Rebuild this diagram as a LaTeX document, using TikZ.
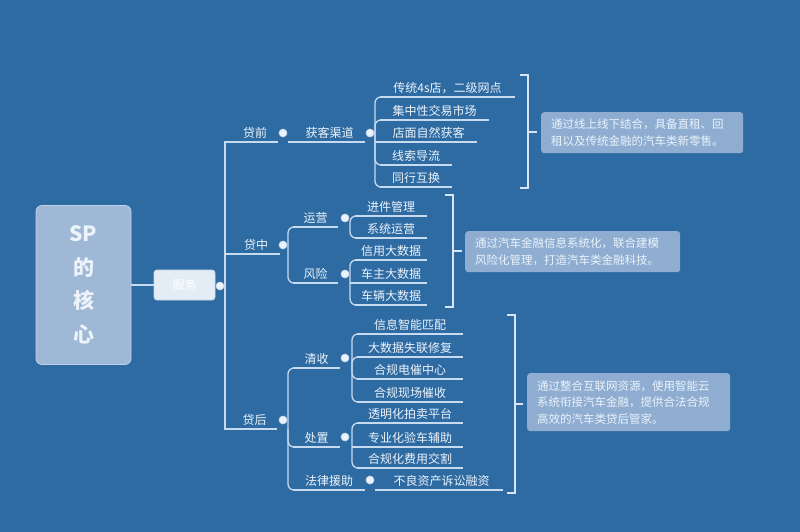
\documentclass[tikz,border=0pt]{standalone}
\usepackage{fontspec}
\newfontfamily\cjk{Noto Sans CJK SC}
\usetikzlibrary{calc}
\definecolor{bgc}{RGB}{46,107,163}
\definecolor{linec}{RGB}{198,218,240}
\definecolor{txtc}{RGB}{236,243,251}
\definecolor{notec}{RGB}{142,173,208}
\definecolor{rootc}{RGB}{158,184,214}
\definecolor{fwc}{RGB}{228,236,246}
\definecolor{brc}{RGB}{214,229,247}
\definecolor{dotc}{RGB}{236,242,250}
\newcommand\mmlabel[5]{%
  \node[lbl, minimum width={(#3-#2)*1pt}] (#1) at ({(#2+#3)/2},#4) {#5};
  \draw[ln] (#1.south west) -- (#1.south east);}
\begin{document}
\begin{tikzpicture}[x=1pt,y=-1pt,
  ln/.style={draw=linec, line width=1.3pt},
  lbl/.style={anchor=south, inner xsep=0pt, inner ysep=3pt, text=txtc,
    font=\cjk\fontsize{12}{12}\selectfont},
  dot/.style={circle, fill=dotc, draw=linec, line width=0.6pt, inner sep=0pt, minimum size=8pt},
  br/.style={draw=brc, line width=2.6pt},
  note/.style={fill=notec, rounded corners=3pt, inner xsep=10pt, inner ysep=0pt, align=left,
    anchor=north west, text=txtc, font=\cjk\fontsize{11.5}{16.5}\selectfont},
  branch/.style={ln, rounded corners=6pt}]
\fill[bgc] (0,0) rectangle (800,532);
\useasboundingbox (0,0) rectangle (800,532);

% root and service box
\node[fill=rootc, draw=linec!80!rootc, line width=0.8pt, rounded corners=6pt,
  minimum width=95pt, minimum height=159pt, inner sep=0pt] (root) at (83.5,285) {};
\node[text=txtc, align=center, font=\cjk\bfseries\fontsize{21}{33.5}\selectfont] (roottxt) at (root.center) {SP\\的\\核\\心};
\node[fill=fwc, draw=linec, line width=0.8pt, rounded corners=3pt, minimum width=61pt,
  minimum height=30pt, inner sep=0pt, text=white, font=\cjk\fontsize{12}{12}\selectfont] (fw) at (184.5,285) {服务};
\draw[ln] (root.east) -- (fw.west);
\node[dot] (fwd) at (220,286) {};
\coordinate (v) at (225,286);
\draw[ln] (fwd.east) -- (v);

% level 1
\mmlabel{Lq}{232}{278}{142}{贷前}
\mmlabel{Lz}{232}{280}{254}{贷中}
\mmlabel{Lh}{232}{277}{429}{贷后}
\draw[ln] (v) |- (Lq.south west);
\draw[ln] (v) |- (Lz.south west);
\draw[ln] (v) |- (Lh.south west);
\node[dot] (dq) at (283,133) {};
\node[dot] (dz) at (283,245) {};
\node[dot] (dh) at (283,420) {};

% level 2
\mmlabel{hk}{294}{365}{142}{获客渠道}
\mmlabel{yy}{293}{338}{227}{运营}
\mmlabel{fx}{293}{338}{283}{风险}
\mmlabel{qs}{293}{340}{368}{清收}
\mmlabel{cz}{293}{340}{447}{处置}
\mmlabel{fl}{293}{365}{490}{法律援助}
\node[dot] (dhk) at (370,133) {};
\node[dot] (dyy) at (345,218) {};
\node[dot] (dfx) at (345,274) {};
\node[dot] (dqs) at (345,358) {};
\node[dot] (dcz) at (345,437) {};
\node[dot] (dfl) at (370,480) {};

\coordinate (bq) at (288,142);
\coordinate (bz) at (288,254);
\coordinate (bh) at (288,429);
\draw[ln] (bq) -- (hk.south west);
\draw[branch] (bz) |- (yy.south west);
\draw[branch] (bz) |- (fx.south west);
\draw[branch] (bh) |- (qs.south west);
\draw[branch] (bh) |- (cz.south west);
\draw[branch] (bh) |- (fl.south west);

% level 3
\mmlabel{a1}{380}{515}{97}{传统4s店，二级网点}
\mmlabel{a2}{380}{489}{120}{集中性交易市场}
\mmlabel{a3}{380}{477}{142}{店面自然获客}
\mmlabel{a4}{380}{452}{165}{线索导流}
\mmlabel{a5}{380}{452}{187}{同行互换}
\coordinate (bhk) at (375,142);
\draw[branch] (bhk) |- (a1.south west);
\draw[branch] (bhk) |- (a2.south west);
\draw[ln] (bhk) -- (a3.south west);
\draw[branch] (bhk) |- (a4.south west);
\draw[branch] (bhk) |- (a5.south west);

\mmlabel{b1}{355}{427}{216}{进件管理}
\mmlabel{b2}{355}{427}{238}{系统运营}
\coordinate (byy) at (350,227);
\draw[branch] (byy) |- (b1.south west);
\draw[branch] (byy) |- (b2.south west);

\mmlabel{c1}{355}{427}{260}{信用大数据}
\mmlabel{c2}{355}{427}{283}{车主大数据}
\mmlabel{c3}{355}{427}{305}{车辆大数据}
\coordinate (bfx) at (350,283);
\draw[branch] (bfx) |- (c1.south west);
\draw[ln] (bfx) -- (c2.south west);
\draw[branch] (bfx) |- (c3.south west);

\mmlabel{e1}{357}{463}{334}{信息智能匹配}
\mmlabel{e2}{357}{463}{357}{大数据失联修复}
\mmlabel{e3}{357}{463}{379}{合规电催中心}
\mmlabel{e4}{357}{463}{402}{合规现场催收}
\coordinate (bqs) at (352,368);
\draw[branch] (bqs) |- (e1.south west);
\draw[branch] (bqs) |- (e2.south west);
\draw[branch] (bqs) |- (e3.south west);
\draw[branch] (bqs) |- (e4.south west);

\mmlabel{f1}{357}{463}{423}{透明化拍卖平台}
\mmlabel{f2}{357}{463}{447}{专业化验车辅助}
\mmlabel{f3}{357}{463}{468}{合规化费用交割}
\coordinate (bcz) at (352,447);
\draw[branch] (bcz) |- (f1.south west);
\draw[ln] (bcz) -- (f2.south west);
\draw[branch] (bcz) |- (f3.south west);

\mmlabel{g1}{380}{503}{490}{不良资产诉讼融资}
\coordinate (bfl) at (375,490);
\draw[ln] (bfl) -- (g1.south west);

% brackets
\draw[br] (520,75) -- (528,75) -- (528,188) -- (520,188);
\coordinate (t1) at (528,132);
\draw[br] (t1) -- ++(9,0);
\draw[br] (445,195) -- (453,195) -- (453,307) -- (445,307);
\coordinate (t2) at (453,251);
\draw[br] (t2) -- ++(9,0);
\draw[br] (507,315) -- (515,315) -- (515,493) -- (507,493);
\coordinate (t3) at (515,404);
\draw[br] (t3) -- ++(8,0);

% notes
\node[note, minimum width=202pt, minimum height=41pt, text width=182pt] (n1) at (541,112)
  {通过线上线下结合，具备直租、回\\租以及传统金融的汽车类新零售。};
\node[note, minimum width=215pt, minimum height=41pt, text width=195pt] (n2) at (465,231)
  {通过汽车金融信息系统化，联合建模\\风险化管理，打造汽车类金融科技。};
\node[note, minimum width=203pt, minimum height=58pt, text width=183pt] (n3) at (527,373)
  {通过整合互联网资源，使用智能云\\系统衔接汽车金融，提供合法合规\\高效的汽车类贷后管家。};
\end{tikzpicture}
\end{document}
